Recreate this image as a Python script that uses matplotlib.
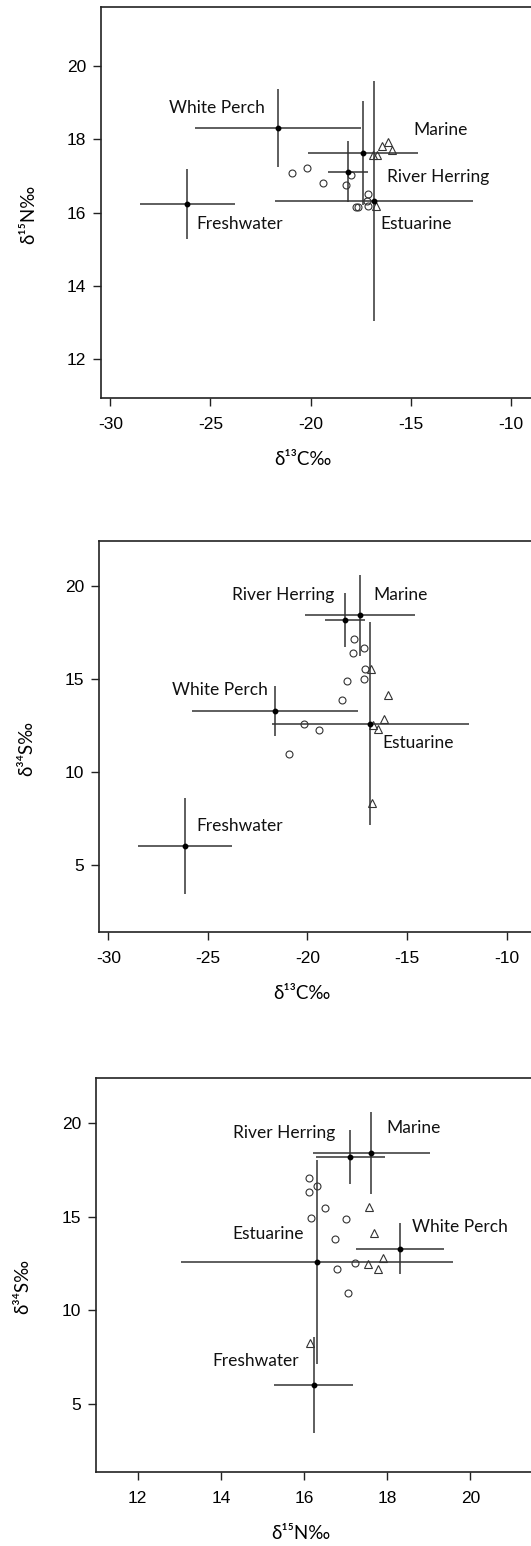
import matplotlib
matplotlib.use('Agg')
import matplotlib.pyplot as plt

plt.rcParams['axes.unicode_minus'] = False

# group means / sd (d13C, d15N, d34S)
groups = ['Freshwater', 'White Perch', 'Marine', 'River Herring', 'Estuarine']
c13_mean = [-26.15, -21.63, -17.37, -18.11, -16.84]
c13_sd = [2.36, 4.15, 2.75, 1.0, 4.96]
n15_mean = [16.23, 18.31, 17.62, 17.11, 16.31]
n15_sd = [0.95, 1.06, 1.41, 0.83, 3.27]
s34_mean = [6.03, 13.3, 18.4, 18.16, 12.6]
s34_sd = [2.57, 1.34, 2.18, 1.43, 5.43]

# individual fish, panel 1 (d13C vs d15N)
p1_circ_x = [-20.91, -20.16, -19.40, -18.25, -17.98, -17.12, -17.20, -17.15, -17.73, -17.65]
p1_circ_y = [17.07, 17.23, 16.81, 16.75, 17.02, 16.50, 16.33, 16.18, 16.15, 16.15]
p1_tri_x = [-16.12, -16.42, -15.95, -16.87, -16.67, -16.73]
p1_tri_y = [17.93, 17.82, 17.71, 17.57, 17.57, 16.19]

# panel 2 (d13C vs d34S)
p2_circ_x = [-17.65, -17.18, -17.73, -17.11, -18.00, -17.18, -18.25, -20.18, -19.42, -20.93]
p2_circ_y = [17.12, 16.67, 16.37, 15.53, 14.90, 15.00, 13.85, 12.60, 12.27, 10.97]
p2_tri_x = [-16.83, -15.96, -16.16, -16.70, -16.44, -16.75]
p2_tri_y = [15.53, 14.14, 12.85, 12.53, 12.30, 8.33]

# panel 3 (d15N vs d34S)
p3_circ_x = [16.13, 16.31, 16.13, 16.50, 16.17, 17.02, 16.74, 16.80, 17.23, 17.06]
p3_circ_y = [17.07, 16.61, 16.31, 15.47, 14.94, 14.87, 13.79, 12.21, 12.53, 10.91]
p3_tri_x = [17.56, 17.68, 17.90, 17.55, 17.79, 16.14]
p3_tri_y = [15.51, 14.11, 12.79, 12.47, 12.22, 8.28]

# label positions (left edge, vertical centre)
p1_lab = [(-25.71, 15.69), (-27.07, 18.85), (-14.87, 18.24), (-16.17, 16.96), (-16.50, 15.69)]
p2_lab = [(-25.57, 7.11), (-26.82, 14.40), (-16.70, 19.50), (-23.81, 19.50), (-16.22, 11.55)]
p3_lab = [(13.79, 7.30), (18.60, 14.46), (17.97, 19.70), (14.30, 19.47), (14.27, 14.05)]

W, H = 531, 1546
fig = plt.figure(figsize=(W / 100, H / 100), dpi=100)

line_col = '#333333'
lab_font = ['Lato', 'DejaVu Sans']
tick_font = 'Liberation Sans'


def make_ax(left_px, top_px, bottom_px, xlim, ylim):
    ax = fig.add_axes([left_px / W, 1 - bottom_px / H, (W - left_px) / W, (bottom_px - top_px) / H])
    ax.set_xlim(*xlim)
    ax.set_ylim(*ylim)
    ax.spines['right'].set_visible(False)
    for s in ['left', 'top', 'bottom']:
        ax.spines[s].set_linewidth(1.2)
        ax.spines[s].set_color('#222222')
    ax.tick_params(direction='out', length=5.5, width=1, color='#222222', labelsize=12.5)
    ax.tick_params(axis='x', pad=8)
    ax.tick_params(axis='y', pad=5)
    return ax


def draw(ax, xm, xs, ym, ys, cx, cy, tx, ty, labs, xlabel, ylabel):
    ax.errorbar(xm, ym, xerr=xs, yerr=ys, fmt='o', color=line_col, ecolor=line_col,
                elinewidth=1.1, markersize=3.2, mfc='black', mec='black', capsize=0)
    ax.plot(cx, cy, 'o', mfc='none', mec='#333333', ms=5, mew=0.8)
    ax.plot(tx, ty, '^', mfc='none', mec='#333333', ms=5.5, mew=0.8)
    for g, (lx, ly) in zip(groups, labs):
        ax.text(lx, ly, g, ha='left', va='center', fontsize=12.5, family=lab_font, color='#111111')
    ax.set_xlabel(xlabel, fontsize=13.5, family=lab_font)
    ax.set_ylabel(ylabel, fontsize=13.5, family=lab_font)
    for t in ax.get_xticklabels() + ax.get_yticklabels():
        t.set_fontfamily(tick_font)


ax1 = make_ax(100.9, 6.8, 398, (-30.47, -8.99), (10.95, 21.61))
ax1.set_xticks([-30, -25, -20, -15, -10])
ax1.set_yticks([12, 14, 16, 18, 20])
draw(ax1, c13_mean, c13_sd, n15_mean, n15_sd, p1_circ_x, p1_circ_y, p1_tri_x, p1_tri_y,
     p1_lab, 'δ¹³C‰', 'δ¹⁵N‰')

ax2 = make_ax(98.9, 540.7, 932, (-30.48, -8.77), (1.42, 22.41))
ax2.set_xticks([-30, -25, -20, -15, -10])
ax2.set_yticks([5, 10, 15, 20])
draw(ax2, c13_mean, c13_sd, s34_mean, s34_sd, p2_circ_x, p2_circ_y, p2_tri_x, p2_tri_y,
     p2_lab, 'δ¹³C‰', 'δ³⁴S‰')

ax3 = make_ax(95.8, 1078.3, 1472, (10.99, 21.46), (1.39, 22.37))
ax3.set_xticks([12, 14, 16, 18, 20])
ax3.set_yticks([5, 10, 15, 20])
draw(ax3, n15_mean, n15_sd, s34_mean, s34_sd, p3_circ_x, p3_circ_y, p3_tri_x, p3_tri_y,
     p3_lab, 'δ¹⁵N‰', 'δ³⁴S‰')

for ax in (ax1, ax2, ax3):
    ax.xaxis.set_label_coords(0.47, -0.135)
    ax.yaxis.set_label_coords(-0.148, 0.47)

fig.savefig('out.png', dpi=100)
